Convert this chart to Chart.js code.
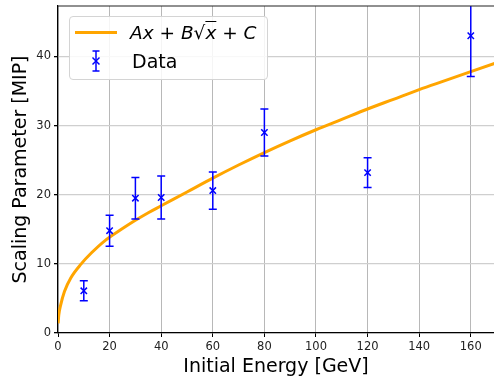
<!DOCTYPE html>
<html>
<head>
<meta charset="utf-8">
<script src="https://cdn.jsdelivr.net/npm/chart.js@4.4.0/dist/chart.umd.min.js"></script>
<style>
  html, body { margin: 0; padding: 0; background: #fff; overflow: hidden; }
  #wrap { position: relative; width: 494px; height: 377px; overflow: hidden; }
  #chart { display: block; }
  #legend {
    position: absolute; left: 69px; top: 16px; width: 199px; height: 64px;
    box-sizing: border-box; border: 1px solid #d4d4d4; border-radius: 4px;
    background: rgba(255, 255, 255, 0.85);
    font-family: "DejaVu Sans", sans-serif; color: #000;
  }
  #legend .lbl { position: absolute; font-size: 19px; line-height: 19px; white-space: nowrap; }
  #legend .fitline { position: absolute; left: 5px; top: 14px; width: 42px; height: 3px; background: #ffa500; }
  #legend svg { position: absolute; left: 19px; top: 33px; }
  .ov { text-decoration: overline; }
</style>
</head>
<body>
<div id="wrap">
  <canvas id="chart" width="494" height="377"></canvas>
  <div id="legend">
    <div class="fitline"></div>
    <div class="lbl" style="left:60px; top:6px; font-size:18.5px"><i>A</i><i>x</i> + <i>B</i>√<span class="ov"><i>x</i></span> + <i>C</i></div>
    <svg width="14" height="22" viewBox="0 0 14 22">
      <g stroke="#0000ff" stroke-width="1.5" fill="none">
        <line x1="7" y1="1" x2="7" y2="21"/>
        <line x1="3.5" y1="1" x2="10.5" y2="1"/>
        <line x1="3.5" y1="21" x2="10.5" y2="21"/>
        <line x1="3.5" y1="7.5" x2="10.5" y2="14.5"/>
        <line x1="3.5" y1="14.5" x2="10.5" y2="7.5"/>
      </g>
    </svg>
    <div class="lbl" style="left:62px; top:35px">Data</div>
  </div>
</div>
<script>
const energies = [10, 20, 30, 40, 60, 80, 120, 160];
const scalingValues = [6.1, 14.8, 19.5, 19.6, 20.6, 29.0, 23.2, 43.0];
const scalingErrors = [1.45, 2.25, 3.0, 3.1, 2.7, 3.4, 2.15, 5.9];

// Points (Ax + B*sqrt(x) + C)
const fitX = [0.05, 0.3, 1, 2.5, 5, 9, 13, 18, 25, 30, 35, 40, 50, 60, 70, 80, 90, 100, 110, 120, 130, 140, 150, 160, 170];
const fitY = [1.4, 2.6, 4.0, 6.0, 8.0, 10.0, 11.6, 13.3, 15.1, 16.3, 17.4, 18.4, 20.4, 22.4, 24.3, 26.1, 27.8, 29.4, 30.9, 32.4, 33.8, 35.2, 36.5, 37.8, 39.1];

// Axis ticks
const xTicks = [0, 20, 40, 60, 80, 100, 120, 140, 160];
const yTicks = [0, 10, 20, 30, 40];

const FONT = 'DejaVu Sans';

// Error bars drawn through the chart's own scales
const errorBars = {
    id: 'errorBars',
    afterDatasetsDraw(chart) {
        const { ctx, chartArea, scales: { x, y } } = chart;
        ctx.save();
        ctx.beginPath();
        ctx.rect(chartArea.left, chartArea.top, chartArea.right - chartArea.left, chartArea.bottom - chartArea.top);
        ctx.clip();
        ctx.strokeStyle = '#0000ff';
        ctx.lineWidth = 1.5;
        energies.forEach((e, i) => {
            const px = x.getPixelForValue(e);
            const top = y.getPixelForValue(scalingValues[i] + scalingErrors[i]);
            const bot = y.getPixelForValue(scalingValues[i] - scalingErrors[i]);
            ctx.beginPath();
            ctx.moveTo(px, top); ctx.lineTo(px, bot);
            ctx.moveTo(px - 4, top); ctx.lineTo(px + 4, top);
            ctx.moveTo(px - 4, bot); ctx.lineTo(px + 4, bot);
            ctx.stroke();
        });
        ctx.restore();
    }
};

// Top spine of the axes box
const topSpine = {
    id: 'topSpine',
    afterDraw(chart) {
        const { ctx, chartArea } = chart;
        ctx.save();
        ctx.strokeStyle = '#222';
        ctx.lineWidth = 1.2;
        ctx.beginPath();
        ctx.moveTo(chartArea.left, chartArea.top);
        ctx.lineTo(chartArea.right, chartArea.top);
        ctx.stroke();
        ctx.restore();
    }
};

new Chart(document.getElementById('chart'), {
    type: 'scatter',
    data: {
        datasets: [
            {
                type: 'line',
                label: 'fit',
                data: fitX.map((v, i) => ({ x: v, y: fitY[i] })),
                borderColor: '#ffa500',
                borderWidth: 3,
                pointRadius: 0,
                fill: false,
                cubicInterpolationMode: 'monotone',
                order: 2
            },
            {
                label: 'Data',
                data: energies.map((v, i) => ({ x: v, y: scalingValues[i] })),
                pointStyle: 'crossRot',
                pointRadius: 4.5,
                borderColor: '#0000ff',
                backgroundColor: '#0000ff',
                borderWidth: 1.5,
                order: 1
            }
        ]
    },
    options: {
        responsive: false,
        animation: false,
        devicePixelRatio: 1,
        layout: { autoPadding: false, padding: { top: 6, left: 0, right: 0, bottom: 0 } },
        plugins: {
            legend: { display: false },
            tooltip: { enabled: false }
        },
        scales: {
            x: {
                type: 'linear',
                min: 0,
                max: 169,
                afterBuildTicks: s => { s.ticks = xTicks.map(v => ({ value: v })); },
                afterFit: s => { s.height = 44; s.paddingLeft = 0; s.paddingRight = 0; },
                grid: { color: '#b8b8b8', lineWidth: 1, tickLength: 4, tickColor: '#000' },
                border: { color: '#000', width: 1.2 },
                ticks: { font: { family: FONT, size: 11.5 }, color: '#222', padding: 3, maxRotation: 0 },
                title: {
                    display: true,
                    text: 'Initial Energy [GeV]',
                    color: '#000',
                    font: { family: FONT, size: 19, lineHeight: 1 },
                    padding: { top: 0, bottom: 0 }
                }
            },
            y: {
                type: 'linear',
                min: 0,
                max: 47.3,
                afterBuildTicks: s => { s.ticks = yTicks.map(v => ({ value: v })); },
                afterFit: s => { s.width = 58; s.paddingTop = 0; s.paddingBottom = 0; },
                grid: { color: '#cfcfcf', lineWidth: 1.3, tickLength: 4, tickColor: '#000' },
                border: { color: '#000', width: 1.2 },
                ticks: { font: { family: FONT, size: 11.5 }, color: '#222', padding: 3 },
                title: {
                    display: true,
                    text: 'Scaling Parameter [MIP]',
                    color: '#000',
                    font: { family: FONT, size: 19, lineHeight: 1 },
                    padding: { top: 12, bottom: 0 }
                }
            }
        }
    },
    plugins: [errorBars, topSpine]
});
</script>
</body>
</html>
